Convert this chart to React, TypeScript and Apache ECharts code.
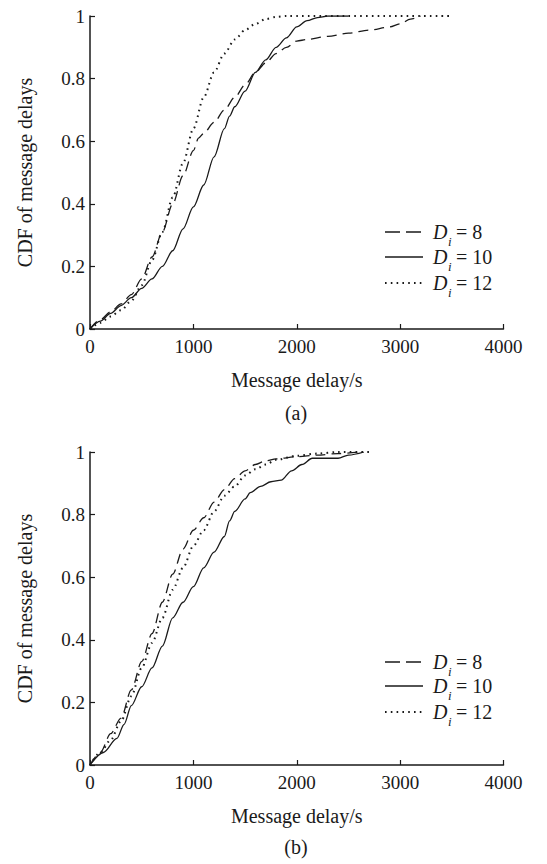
import React, { useEffect, useRef } from "react";
import * as echarts from "echarts";

// ---- Data ----
const xTicks = [0, 1000, 2000, 3000, 4000];
const yTicks = [0, 0.2, 0.4, 0.6, 0.8, 1];
const legendNames = ["8", "10", "12"];
const panelLabels = ["(a)", "(b)"];

// Panel (a)
const aD8: [number, number][] = [
  [0, 0], [100, 0.03], [200, 0.055], [300, 0.08], [400, 0.11], [500, 0.16], [600, 0.23],
  [700, 0.31], [800, 0.4], [900, 0.49], [1000, 0.57], [1050, 0.61], [1100, 0.625],
  [1200, 0.66], [1300, 0.7], [1400, 0.74], [1500, 0.78], [1600, 0.82], [1700, 0.85],
  [1800, 0.88], [1900, 0.9], [2000, 0.92], [2100, 0.925], [2300, 0.935], [2500, 0.945],
  [2700, 0.955], [2900, 0.965], [3000, 0.975], [3100, 0.99], [3200, 1.0],
];
const aD10: [number, number][] = [
  [0, 0], [100, 0.025], [200, 0.05], [300, 0.075], [400, 0.1], [500, 0.13], [600, 0.16],
  [700, 0.2], [800, 0.25], [900, 0.32], [1000, 0.39], [1100, 0.46], [1200, 0.55],
  [1300, 0.64], [1350, 0.68], [1400, 0.71], [1500, 0.76], [1600, 0.82], [1700, 0.86],
  [1800, 0.9], [1900, 0.93], [2000, 0.965], [2100, 0.985], [2200, 0.995], [2300, 1.0],
  [2500, 1.0],
];
const aD12: [number, number][] = [
  [0, 0], [100, 0.02], [200, 0.04], [300, 0.06], [400, 0.09], [500, 0.14], [600, 0.22],
  [700, 0.31], [800, 0.42], [900, 0.53], [1000, 0.64], [1100, 0.74], [1200, 0.82],
  [1300, 0.88], [1400, 0.925], [1500, 0.955], [1600, 0.975], [1700, 0.99], [1800, 0.997],
  [1900, 1.0], [3500, 1.0],
];

// Panel (b)
const bD8: [number, number][] = [
  [0, 0], [100, 0.04], [200, 0.1], [300, 0.15], [400, 0.24], [500, 0.33], [600, 0.42],
  [700, 0.52], [800, 0.61], [900, 0.69], [1000, 0.75], [1100, 0.79], [1200, 0.84],
  [1300, 0.88], [1400, 0.915], [1500, 0.94], [1600, 0.96], [1700, 0.972], [1800, 0.978],
  [2000, 0.985], [2200, 0.99], [2400, 0.995], [2600, 1.0],
];
const bD10: [number, number][] = [
  [0, 0], [130, 0.04], [260, 0.085], [330, 0.13], [400, 0.19], [500, 0.25], [600, 0.31],
  [700, 0.38], [800, 0.47], [900, 0.52], [1000, 0.57], [1100, 0.63], [1200, 0.68],
  [1300, 0.73], [1350, 0.78], [1400, 0.81], [1500, 0.85], [1550, 0.87], [1650, 0.89],
  [1750, 0.905], [1850, 0.91], [1950, 0.94], [2050, 0.96], [2150, 0.98], [2400, 0.98],
  [2500, 0.99], [2650, 1.0],
];
const bD12: [number, number][] = [
  [0, 0], [100, 0.04], [200, 0.08], [300, 0.14], [400, 0.22], [500, 0.31], [600, 0.39],
  [700, 0.47], [800, 0.56], [900, 0.63], [1000, 0.7], [1100, 0.75], [1200, 0.81],
  [1300, 0.86], [1400, 0.89], [1500, 0.925], [1600, 0.945], [1700, 0.96], [1800, 0.975],
  [2000, 0.988], [2200, 0.995], [2400, 1.0], [2700, 1.0],
];

const FONT = "'Liberation Serif', 'Times New Roman', serif";
const INK = "#1a1a1a";
const DASH = [10, 6];
const DOT = [1.6, 4.2];

export default function App() {
  const ref = useRef<HTMLDivElement>(null);
  useEffect(() => {
    if (!ref.current) return;
    const chart = echarts.init(ref.current, undefined, { renderer: "svg" });

    const grids = [
      { left: 90, top: 16, width: 413.5, height: 313 },
      { left: 90, top: 452, width: 413.5, height: 313 },
    ];

    const xAxis = grids.map((_, i) => ({
      gridIndex: i,
      type: "value",
      min: xTicks[0],
      max: xTicks[xTicks.length - 1],
      interval: xTicks[1] - xTicks[0],
      name: "Message delay/s",
      nameLocation: "middle",
      nameGap: 41,
      nameTextStyle: { fontFamily: FONT, fontSize: 20, color: INK },
      axisLine: { show: true, lineStyle: { color: INK, width: 1.5 } },
      axisTick: { show: true, inside: true, length: 5, lineStyle: { color: INK, width: 1.2 } },
      axisLabel: { fontFamily: FONT, fontSize: 19, color: INK, margin: 8, formatter: (v: number) => String(v) },
      splitLine: { show: false },
    }));
    const yAxis = grids.map((_, i) => ({
      gridIndex: i,
      type: "value",
      min: yTicks[0],
      max: yTicks[yTicks.length - 1],
      interval: yTicks[1] - yTicks[0],
      name: "CDF of message delays",
      nameLocation: "middle",
      nameGap: 55,
      nameTextStyle: { fontFamily: FONT, fontSize: 20, color: INK },
      axisLine: { show: true, lineStyle: { color: INK, width: 1.5 } },
      axisTick: { show: true, inside: true, length: 5, lineStyle: { color: INK, width: 1.2 } },
      axisLabel: { fontFamily: FONT, fontSize: 19, color: INK, margin: 5, formatter: (v: number) => String(Math.round(v * 10) / 10) },
      splitLine: { show: false },
    }));

    const mk = (name: string, data: [number, number][], idx: number, type: any, width: number) => ({
      name,
      type: "line",
      xAxisIndex: idx,
      yAxisIndex: idx,
      data,
      showSymbol: false,
      smooth: 0.3,
      smoothMonotone: "x",
      lineStyle: { color: INK, width, type, cap: "butt" },
      emphasis: { disabled: true },
    });

    const series = [
      mk("a8", aD8, 0, DASH, 1.3),
      mk("a10", aD10, 0, "solid", 1.3),
      mk("a12", aD12, 0, DOT, 2),
      mk("b8", bD8, 1, DASH, 1.3),
      mk("b10", bD10, 1, "solid", 1.3),
      mk("b12", bD12, 1, DOT, 2),
    ];

    // legend drawn as graphic
    const legendRows = [
      [232, 257, 283],
      [662, 686, 712],
    ];
    const styles = [
      { lineDash: [15, 6], lineWidth: 1.3 },
      { lineDash: null, lineWidth: 1.3 },
      { lineDash: [1.6, 4.2], lineWidth: 2 },
    ];
    const graphic: any[] = [];
    legendRows.forEach((rows) => {
      rows.forEach((y, k) => {
        graphic.push({
          type: "line",
          shape: { x1: 385, y1: y, x2: 423, y2: y },
          style: { stroke: INK, lineWidth: styles[k].lineWidth, lineDash: styles[k].lineDash, lineCap: "butt" },
          silent: true,
        });
        graphic.push({
          type: "text",
          x: 433,
          y: y,
          style: { text: "D", font: `italic 20px ${FONT}`, fill: INK, verticalAlign: "middle", textAlign: "left" },
          silent: true,
        });
        graphic.push({
          type: "text",
          x: 448,
          y: y + 9,
          style: { text: "i", font: `italic 13px ${FONT}`, fill: INK, verticalAlign: "middle", textAlign: "left" },
          silent: true,
        });
        graphic.push({
          type: "text",
          x: 456,
          y: y,
          style: { text: "= " + legendNames[k], font: `20px ${FONT}`, fill: INK, verticalAlign: "middle", textAlign: "left" },
          silent: true,
        });
      });
    });
    const panelY = [413, 847];
    panelLabels.forEach((t, i) => {
      graphic.push({
        type: "text",
        x: 296,
        y: panelY[i],
        style: { text: t, font: `20px ${FONT}`, fill: INK, verticalAlign: "middle", textAlign: "center" },
        silent: true,
      });
    });

    chart.setOption({
      animation: false,
      backgroundColor: "#ffffff",
      grid: grids,
      xAxis,
      yAxis,
      series,
      graphic,
    } as any);
    return () => chart.dispose();
  }, []);
  return (
    <div
      ref={ref}
      style={{ position: "fixed", left: 0, top: 0, width: 547, height: 864, background: "#fff" }}
    />
  );
}
